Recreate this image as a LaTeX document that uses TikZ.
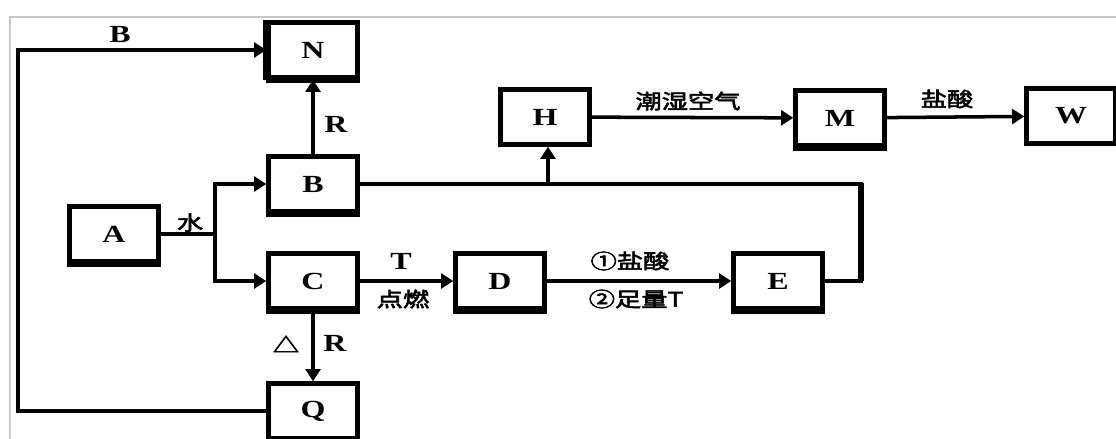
\documentclass[tikz,border=0pt]{standalone}
\usepackage{graphicx}
\usepackage{fontspec}
\setmainfont{Liberation Serif}
\newfontfamily\cjk[FakeBold=2.5]{Noto Sans CJK SC}
\usetikzlibrary{arrows.meta}
% horizontally widened lettering
\newcommand{\widetxt}[1]{\scalebox{1.3}[1]{#1}}
\begin{document}
\begin{tikzpicture}[x=0.02cm,y=-0.02cm,
  box/.style={draw,line width=2.5pt,minimum width=1.78cm,minimum height=1.1cm,inner sep=0pt,font=\bfseries\fontsize{14}{16}\selectfont},
  link/.style={line width=2pt},
  arr/.style={link,-{Triangle[length=7pt,width=8.5pt]}},
  lbl/.style={font=\bfseries\fontsize{14}{16}\selectfont,inner sep=1pt},
  clbl/.style={font=\cjk\fontsize{11.5}{13}\selectfont,inner sep=1pt}]
\useasboundingbox (0,0) rectangle (1116,439);
% outer frame
\draw[black!22,line width=0.9pt] (10,439) -- (10,17) -- (1116,17);

% boxes
\node[box] (N) at (313,50) {\widetxt{N}};
\node[box] (B) at (313,184) {\widetxt{B}};
\node[box] (A) at (114,234) {\widetxt{A}};
\node[box] (C) at (313,281) {\widetxt{C}};
\node[box] (Q) at (313,411) {\widetxt{Q}};
\node[box] (D) at (500,281) {\widetxt{D}};
\node[box] (E) at (778,281) {\widetxt{E}};
\node[box] (H) at (545,117) {\widetxt{H}};
\node[box] (M) at (840,118) {\widetxt{M}};
\node[box] (W) at (1071,116) {\widetxt{W}};
% heavier lower edges
\foreach \n in {N,B,A,C,Q,D,E,M}
  \draw[line width=3.4pt] (\n.south west) -- (\n.south east);
\draw[line width=3.4pt] (N.south west) -- (N.north west);

% routing points
\coordinate (split) at (215,234);
\coordinate (loopR) at (861,281);
\coordinate (loopT) at (861,183);
\coordinate (tap) at (548,183);
\coordinate (loopL) at (18,411);

% A splits into B and C
\draw[link] (A.east) -- (split);
\draw[arr] (split) |- (B);
\draw[arr] (split) |- (C);
\node[clbl,anchor=south] (water) at (190,234) {\widetxt{水}};

% B to N
\draw[arr] (B) -- (N);
\node[lbl] (rB) at (336,124) {\widetxt{R}};

% C to D to E
\draw[arr] (C) -- (D);
\node[lbl] (tC) at (401,261) {\widetxt{T}};
\node[clbl] (burn) at (403,299) {\widetxt{点燃}};
\draw[arr] (D) -- (E);
\node[clbl] (acid1) at (630,261) {\widetxt{①盐酸}};
\node[clbl] (tE) at (636,299) {\widetxt{②足量T}};

% E back along B's level, tapped up to H
\draw[link] (E.east) -- (loopR) |- (B.east);
\draw[line width=3.6pt] (loopR) -- (loopT);
\draw[arr] (tap) -- (H.south -| tap);

% H to M to W
\draw[arr] (H) -- (M);
\node[clbl] (air) at (688,101) {\widetxt{潮湿空气}};
\draw[arr] (M) -- (W);
\node[clbl] (acid2) at (947,99) {\widetxt{盐酸}};

% C to Q and Q round to N
\draw[arr] (C) -- (Q);
\node[clbl,inner sep=0pt] (heat) at (286,344) {\widetxt{△}};
\node[lbl] (rC) at (335,343) {\widetxt{R}};
\draw[arr] (Q.west) -- (loopL) |- (N.west);
\node[lbl] (bQ) at (120,34) {\widetxt{B}};
\end{tikzpicture}
\end{document}
